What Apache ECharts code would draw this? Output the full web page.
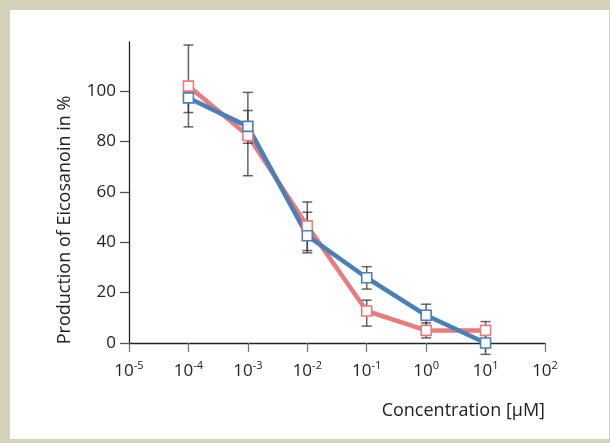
<!DOCTYPE html>
<html>
<head>
<meta charset="utf-8">
<script src="https://cdn.jsdelivr.net/npm/echarts@6/dist/echarts.min.js"></script>
<style>
html,body{margin:0;padding:0;background:#d3d1ba;width:610px;height:443px;overflow:hidden;}
#panel{position:absolute;left:10px;top:10px;width:599px;height:429px;background:#ffffff;}
#chart{position:absolute;left:0;top:0;width:610px;height:443px;}
</style>
</head>
<body>
<div id="panel"></div>
<div id="chart"></div>
<script>
// Concentrations (µM)
const concentrations = [1e-4, 1e-3, 1e-2, 1e-1, 1, 10];
// Series A (red)
const redValues = [102, 82.4, 46.5, 12.7, 5, 5];
const redLow    = [85.8, 66.4, 36.7, 6.7, 2, 1.5];
const redHigh   = [118.3, 99.5, 56, 17, 8, 8.5];
// Series B (blue)
const blueValues = [97.3, 86, 42.6, 25.9, 11, 0];
const blueLow    = [91.5, 79.3, 35.8, 21.4, 6.8, -4.5];
const blueHigh   = [102.7, 92.3, 51.9, 30.3, 15.4, 4.5];
// Axis ticks
const yTicks = [0, 20, 40, 60, 80, 100];
const xTickExponents = [-5, -4, -3, -2, -1, 0, 1, 2];

const FONT = 'Open Sans';
const RED = '#e97b7d';
const BLUE = '#4a80b7';

function pairs(vals) { return concentrations.map((c, i) => [c, vals[i]]); }
function errData(low, high) { return concentrations.map((c, i) => [c, low[i], high[i]]); }

function errRender(params, api) {
  const x = api.value(0);
  const lo = api.coord([x, api.value(1)]);
  const hi = api.coord([x, api.value(2)]);
  const w = 5;
  const style = { stroke: 'rgba(50,50,50,0.75)', lineWidth: 1.5, fill: null };
  return {
    type: 'group',
    children: [
      { type: 'line', shape: { x1: lo[0], y1: lo[1], x2: hi[0], y2: hi[1] }, style },
      { type: 'line', shape: { x1: lo[0] - w, y1: lo[1], x2: lo[0] + w, y2: lo[1] }, style },
      { type: 'line', shape: { x1: hi[0] - w, y1: hi[1], x2: hi[0] + w, y2: hi[1] }, style }
    ]
  };
}

const chart = echarts.init(document.getElementById('chart'), null, { renderer: 'canvas' });
chart.setOption({
  backgroundColor: 'transparent',
  animation: false,
  textStyle: { fontFamily: FONT },
  grid: { left: 129, right: 65, top: 42, bottom: 100, containLabel: false },
  xAxis: {
    type: 'log',
    logBase: 10,
    min: 1e-5,
    max: 1e2,
    splitNumber: 7,
    name: 'Concentration [\u03bcM]',
    nameLocation: 'end',
    nameGap: 0,
    nameTextStyle: { fontFamily: FONT, fontSize: 18, color: '#222', align: 'right', verticalAlign: 'top', padding: [59, 0, 0, 0] },
    axisLine: { show: true, lineStyle: { color: '#222', width: 1.3 } },
    axisTick: { show: true, inside: false, length: 9, lineStyle: { color: '#777', width: 1.3 } },
    splitLine: { show: false },
    minorTick: { show: false },
    axisLabel: {
      margin: 17,
      formatter: function (v) {
        const e = Math.round(Math.log10(v));
        return '{b|10}{s|' + e + '}';
      },
      rich: {
        b: { fontFamily: FONT, fontSize: 17, color: '#222', verticalAlign: 'bottom' },
        s: { fontFamily: FONT, fontSize: 11, color: '#222', verticalAlign: 'bottom', padding: [0, 0, 9, 0] }
      }
    }
  },
  yAxis: {
    type: 'value',
    min: 0,
    max: 119.5,
    interval: 20,
    axisLine: { show: true, lineStyle: { color: '#222', width: 1.3 } },
    axisTick: { show: true, inside: false, length: 9, customValues: yTicks, lineStyle: { color: '#555', width: 1.3 } },
    splitLine: { show: false },
    axisLabel: { customValues: yTicks, margin: 13, fontFamily: FONT, fontSize: 17, color: '#222' }
  },
  graphic: [{
    type: 'text',
    x: 65, y: 220,
    rotation: Math.PI / 2,
    style: { text: 'Production of Eicosanoin in %', fontFamily: FONT, fontSize: 18, fill: '#222', align: 'center', verticalAlign: 'middle' }
  }],
  series: [
    { type: 'line', data: pairs(redValues), showSymbol: false, symbol: 'none', lineStyle: { color: RED, width: 4.5 }, z: 2 },
    { type: 'line', data: pairs(blueValues), showSymbol: false, symbol: 'none', lineStyle: { color: BLUE, width: 4.5 }, z: 3 },
    { type: 'custom', data: errData(redLow, redHigh), renderItem: errRender, clip: false, z: 4 },
    { type: 'custom', data: errData(blueLow, blueHigh), renderItem: errRender, clip: false, z: 4 },
    { type: 'scatter', data: pairs(redValues), symbol: 'rect', symbolSize: 10, itemStyle: { color: '#fff', borderColor: RED, borderWidth: 1.6, opacity: 1 }, z: 5 },
    { type: 'scatter', data: pairs(blueValues), symbol: 'rect', symbolSize: 10, itemStyle: { color: '#fff', borderColor: BLUE, borderWidth: 1.6, opacity: 1 }, z: 6 }
  ]
});
</script>
</body>
</html>
